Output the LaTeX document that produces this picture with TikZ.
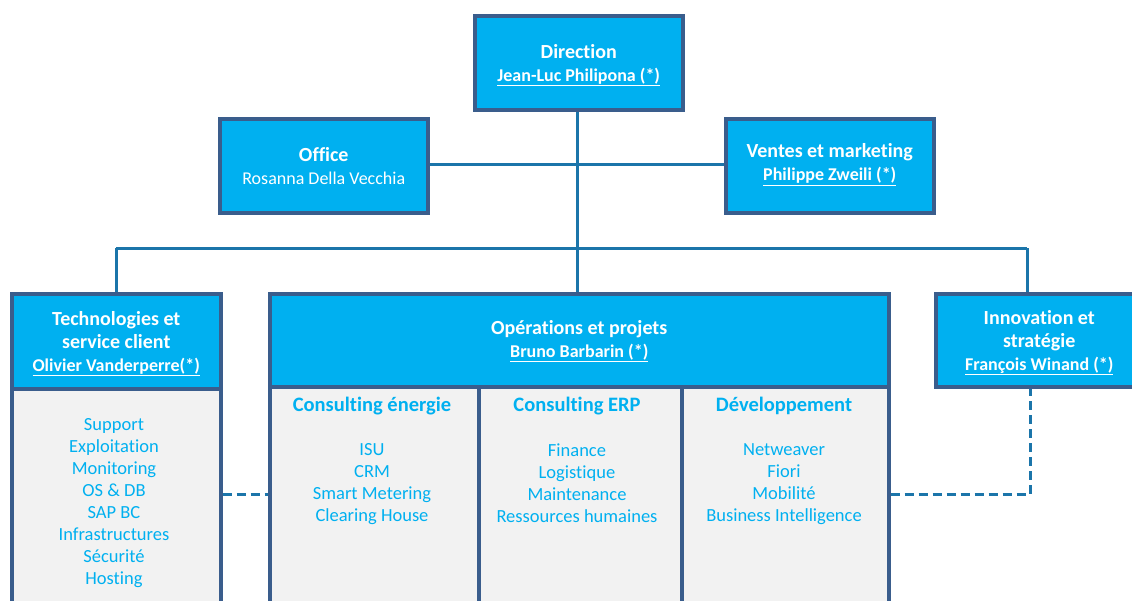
\documentclass[tikz,border=0pt]{standalone}
\usepackage{fontspec}
\setmainfont{Carlito}[Ligatures={NoCommon}]
\definecolor{cyanfill}{HTML}{00B0F0}
\definecolor{edge}{HTML}{3A5D8C}
\definecolor{link}{HTML}{1B75AA}
\definecolor{bodygrey}{HTML}{F2F2F2}
\begin{document}
\begin{tikzpicture}[x=1pt,y=-1pt,
  head/.style={draw=edge, line width=3.5pt, fill=cyanfill, anchor=north west, inner sep=0pt},
  headtxt/.style={text=white, align=center, inner sep=0pt, font=\fontsize{20}{23}\selectfont\bfseries},
  bodybox/.style={draw=edge, line width=3.5pt, fill=bodygrey, anchor=north west, inner sep=0pt},
  listtxt/.style={text=cyanfill, align=center, font=\fontsize{18.5}{22}\selectfont, anchor=north},
  coltitle/.style={text=cyanfill, font=\fontsize{20.5}{22}\selectfont\bfseries, anchor=center},
  conn/.style={draw=link, line width=3pt},
  dconn/.style={draw=link, line width=3pt, dash pattern=on 9pt off 5pt}
]
\useasboundingbox (0,0) rectangle (1132,600);
\clip (0,0) rectangle (1132,600);
\newcommand{\sub}[1]{{\fontsize{18}{23}\selectfont\underline{#1}}}

\coordinate (busL) at (116,248);
\coordinate (busM) at (577,248);
\coordinate (busR) at (1027,248);
\coordinate (omid) at (577,164);

% boxes
\node[head, minimum width=208pt, minimum height=94pt] (dir) at (473,14) {};
\node[headtxt] (dirt) at ([yshift=-2.5pt]dir.center) {Direction\\ \sub{Jean-Luc Philipona (*)}};
\node[head, minimum width=208pt, minimum height=94pt] (off) at (218,117) {};
\node[headtxt] (offt) at (off.center) {Office\\ {\fontsize{18}{23}\selectfont\mdseries Rosanna Della Vecchia}};
\node[head, minimum width=208pt, minimum height=94pt] (ven) at (724,117) {};
\node[headtxt] (vent) at ([yshift=1pt]ven.center) {Ventes et marketing\\ \sub{Philippe Zweili (*)}};

\node[bodybox, minimum width=209pt, minimum height=230pt] (techb) at (10,387) {};
\node[head, minimum width=209pt, minimum height=95pt] (tech) at (10,292) {};
\node[headtxt] (techt) at ([yshift=-2.5pt]tech.center) {Technologies et\\ service client\\ \sub{Olivier Vanderperre(*)}};

\node[bodybox, minimum width=209pt, minimum height=230pt] (c1) at (268,385) {};
\node[bodybox, minimum width=203pt, minimum height=230pt] (c2) at (477,385) {};
\node[bodybox, minimum width=207pt, minimum height=230pt] (c3) at (680,385) {};
\node[head, minimum width=619pt, minimum height=93pt] (ops) at (268,292) {};
\node[headtxt] (opst) at ([yshift=-1pt]ops.center) {Opérations et projets\\ \sub{Bruno Barbarin (*)}};

\node[head, minimum width=207pt, minimum height=93pt] (inno) at (934,292) {};
\node[headtxt] (innot) at ([yshift=-2.5pt]inno.center) {Innovation et\\ stratégie\\ \sub{François Winand (*)}};

% lists
\node[listtxt] (tl) at (114,415) {Support\\ Exploitation\\ Monitoring\\ OS \& DB\\ SAP BC\\ Infrastructures\\ Sécurité\\ Hosting};
\node[coltitle] (h1) at (372,406) {Consulting énergie};
\node[coltitle] (h2) at (577,406) {Consulting ERP};
\node[coltitle] (h3) at (784,406) {Développement};
\node[listtxt] (l1) at (372,440) {ISU\\ CRM\\ Smart Metering\\ Clearing House};
\node[listtxt] (l2) at (577,440) {Finance\\ Logistique\\ Maintenance\\ Ressources humaines};
\node[listtxt] (l3) at (784,440) {Netweaver\\ Fiori\\ Mobilité\\ Business Intelligence};

% solid connectors
\draw[conn] (dir.south -| omid) -- (busM);
\draw[conn] (off.east |- omid) -- (ven.west |- omid);
\draw[conn] (busL) -- (busR);
\draw[conn] (busL) -- (tech.north -| busL);
\draw[conn] (busM) -- (ops.north -| busM);
\draw[conn] (busR) -- (inno.north -| busR);

% dashed connectors
\coordinate (dl) at (0,494);
\coordinate (dcorner) at (1030,494);
\draw[dconn] (techb.east |- dl) -- (c1.west |- dl);
\draw[dconn] (c3.east |- dl) -- (dcorner) -- (inno.south -| dcorner);
\end{tikzpicture}
\end{document}
